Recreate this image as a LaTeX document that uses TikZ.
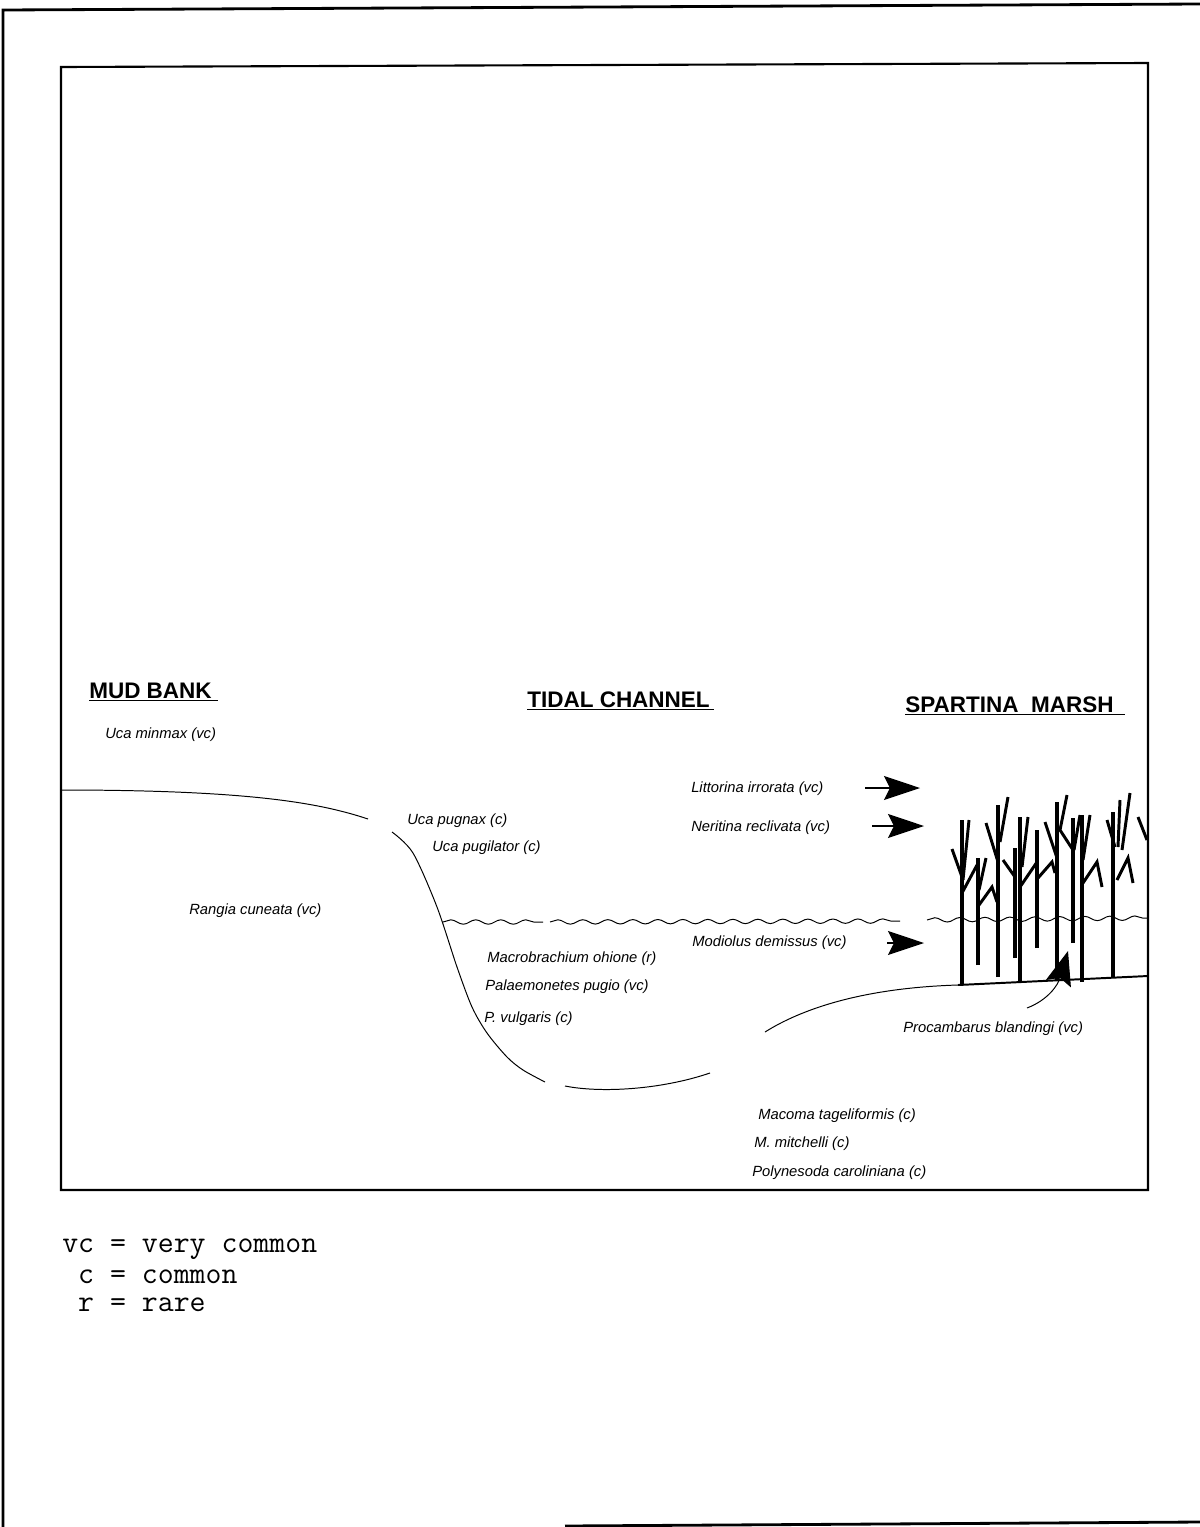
\documentclass[tikz,border=0pt]{standalone}
\usepackage{fontspec}
\setmainfont{Liberation Sans}
\usetikzlibrary{arrows.meta,decorations.pathmorphing}
\begin{document}
\begin{tikzpicture}[x=0.025cm,y=-0.025cm,
  outerframe/.style={line width=2pt},
  frame/.style={line width=1.5pt},
  ground/.style={line width=0.7pt},
  marshfloor/.style={line width=1.4pt},
  water/.style={line width=0.7pt, decorate,
    decoration={snake, segment length=0.625cm, amplitude=0.055cm}},
  heading/.style={anchor=base west, inner sep=0pt,
    font=\fontsize{16}{19}\selectfont\bfseries},
  species/.style={anchor=west, inner sep=0pt,
    font=\fontsize{10.5}{12}\selectfont\itshape},
  legendline/.style={anchor=west, inner sep=0pt,
    font=\fontsize{22}{25}\selectfont\ttfamily},
  underline/.style={line width=1.2pt},
  fatarrow/.style={line width=0.8pt,
    -{Stealth[length=0.9cm, width=0.6cm, inset=0.15cm]}},
  stem/.style={line width=2.5pt},
  leaf/.style={line width=2.1pt, line join=miter}
]
\useasboundingbox (0,0) rectangle (1200,1527);

% page border and figure frame
\draw[outerframe] (3,1527) -- (3,10) -- (1200,4);
\draw[outerframe] (565,1526) -- (1200,1522);
\draw[frame] (61,67) -- (1148,63) -- (1148,1190) -- (61,1190) -- cycle;

% zone headings
\node[heading] (mud) at (89,698) {MUD BANK};
\draw[underline] (89,700.5) -- (218,700.5);
\node[heading] (tidal) at (527,707) {TIDAL CHANNEL};
\draw[underline] (527,709.5) -- (714,709.5);
\node[heading] (marsh) at (905,712) {SPARTINA\ \ MARSH};
\draw[underline] (905,714.5) -- (1125,714.5);

% bottom profile
\draw[ground] (61,790) .. controls (250,790) and (320,803) .. (368,819);
\draw[ground] plot[smooth] coordinates {(392,832) (413,853) (437,907) (457,967)
  (472,1007) (487,1033) (507,1057) (523,1070) (545,1082)};
\draw[ground] (565,1086) .. controls (600,1093) and (660,1090) .. (710,1073);
\draw[ground] (765,1032) .. controls (800,1010) and (860,988) .. (958,985);
\draw[marshfloor] (958,985) -- (1148,976);

% water surface
\draw[water] (443,922) -- (543,922);
\draw[water] (550,922) -- (900,921);
\draw[water] (927,920) -- (1148,918);

% marsh grass: stems
\draw[stem] (962,985) -- (962,820);
\draw[stem] (978,965) -- (978,858);
\draw[stem] (998,977) -- (998,805);
\draw[stem] (1015,958) -- (1015,848);
\draw[stem] (1020,983) -- (1020,817);
\draw[stem] (1037,948) -- (1037,830);
\draw[stem] (1057,980) -- (1057,802);
\draw[stem] (1073,943) -- (1073,818);
\draw[stem] (1082,982) -- (1082,815);
\draw[stem] (1113,977) -- (1113,812);
% marsh grass: leaves
\draw[leaf] (969,820) -- (963,880);
\draw[leaf] (952,849) -- (962,877);
\draw[leaf] (962,893) -- (977,865);
\draw[leaf] (986,858) -- (979,890);
\draw[leaf] (979,905) -- (992,887) -- (997,902);
\draw[leaf] (1008,797) -- (1000,842);
\draw[leaf] (986,823) -- (998,862);
\draw[leaf] (1003,860) -- (1015,877);
\draw[leaf] (1028,817) -- (1022,867);
\draw[leaf] (1020,887) -- (1037,862);
\draw[leaf] (1038,878) -- (1052,862) -- (1055,873);
\draw[leaf] (1045,822) -- (1057,858);
\draw[leaf] (1067,795) -- (1060,830) -- (1073,850);
\draw[leaf] (1080,815) -- (1074,850);
\draw[leaf] (1090,815) -- (1083,860);
\draw[leaf] (1083,883) -- (1097,862) -- (1102,887);
\draw[leaf] (1130,793) -- (1122,850);
\draw[leaf] (1120,800) -- (1118,847);
\draw[leaf] (1107,820) -- (1115,847);
\draw[leaf] (1117,880) -- (1128,858) -- (1133,883);
\draw[leaf] (1138,817) -- (1147,840);

% species labels
\node[species] (ucamin) at (105,735) {Uca minmax (vc)};
\node[species] (ucapugn) at (407,821) {Uca pugnax (c)};
\node[species] (ucapugi) at (432,848) {Uca pugilator (c)};
\node[species] (rangia) at (189,911) {Rangia cuneata (vc)};
\node[species] (littorina) at (691,789) {Littorina irrorata (vc)};
\node[species] (neritina) at (691,828) {Neritina reclivata (vc)};
\node[species] (modiolus) at (692,943) {Modiolus demissus (vc)};
\node[species] (macrob) at (487,959) {Macrobrachium ohione (r)};
\node[species] (palaem) at (485,987) {Palaemonetes pugio (vc)};
\node[species] (pvulg) at (484,1019) {P. vulgaris (c)};
\node[species] (procamb) at (903,1029) {Procambarus blandingi (vc)};
\node[species] (macoma) at (758,1116) {Macoma tageliformis (c)};
\node[species] (mitch) at (754,1144) {M. mitchelli (c)};
\node[species] (polyn) at (752,1173) {Polynesoda caroliniana (c)};

% arrows into the marsh
\coordinate (littail) at (865,788);
\coordinate (littip) at (920,788);
\coordinate (nertail) at (872,826);
\coordinate (nertip) at (924,826);
\coordinate (modtail) at (887,943);
\coordinate (modtip) at (924,943);
\coordinate (protail) at (1027,1008);
\coordinate (protip) at (1068,951);
\draw[fatarrow] (littail) -- (littip);
\draw[fatarrow] (nertail) -- (nertip);
\draw[fatarrow] (modtail) -- (modtip);
\draw[line width=0.7pt, -{Stealth[length=0.85cm, width=0.65cm, inset=0.15cm]}]
  (protail) .. controls (1048,1000) and (1058,985) .. (protip);

% abundance key
\node[legendline] (keyvc) at (62,1249) {vc = very common};
\node[legendline] (keyc) at (62,1277) {\hphantom{v}c = common};
\node[legendline] (keyr) at (62,1305) {\hphantom{v}r = rare};
\end{tikzpicture}
\end{document}
